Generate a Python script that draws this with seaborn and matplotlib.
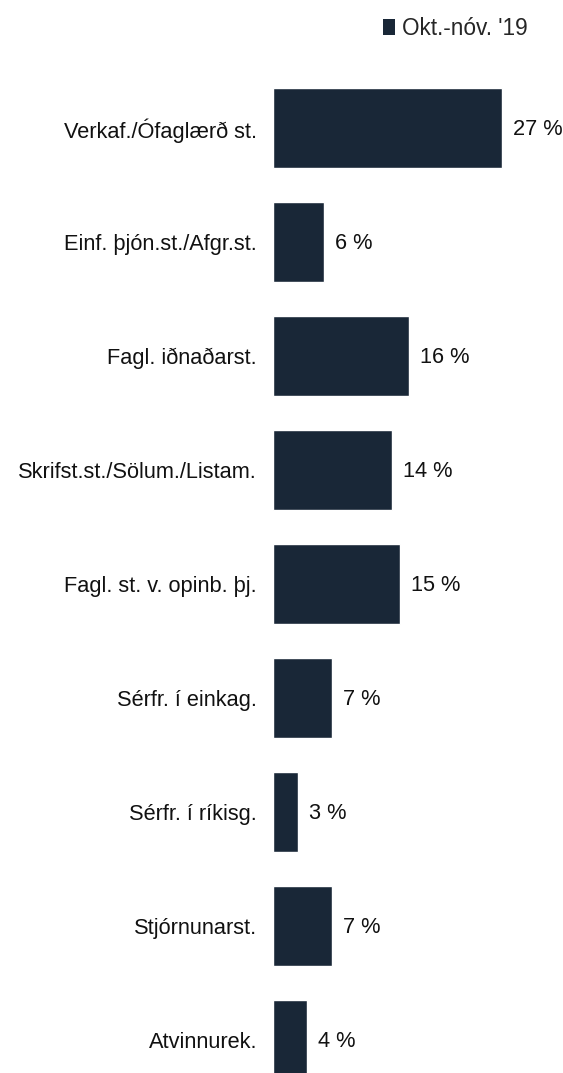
import numpy as np
import pandas as pd
import matplotlib
matplotlib.use("Agg")
import matplotlib.pyplot as plt
import seaborn as sns
from matplotlib.patches import Patch

categories = ["Verkaf./Ófaglærð st.", "Einf. þjón.st./Afgr.st.", "Fagl. iðnaðarst.",
              "Skrifst.st./Sölum./Listam.", "Fagl. st. v. opinb. þj.", "Sérfr. í einkag.",
              "Sérfr. í ríkisg.", "Stjórnunarst.", "Atvinnurek."]
values = [27, 6, 16, 14, 15, 7, 3, 7, 4]
series_name = "Okt.-nóv. '19"
bar_color = "#192737"

df = pd.DataFrame({"cat": categories, "val": values})

sns.set_style("white")
plt.rcParams['font.family'] = ['Liberation Sans', 'DejaVu Sans']

fig = plt.figure(figsize=(5.63, 10.73), dpi=100)
ax = fig.add_axes([273 / 563, 0, 1 - 273 / 563, 1003 / 1073])

sns.barplot(data=df, y="cat", x="val", orient="h", color=bar_color,
            width=0.7, saturation=1, ax=ax)

ax.set_xlim(0, 34.2)
ax.set_ylim(8.29, -0.51)
ax.set_xlabel("")
ax.set_ylabel("")
ax.set_xticks([])
ax.tick_params(axis="y", length=0, pad=11.5, labelsize=15.7, labelcolor="#111111")
for s in ax.spines.values():
    s.set_visible(False)

for i, v in enumerate(values):
    ax.text(v + 1.3, i + 0.01, f"{v} %", va="center", ha="left", fontsize=15.7, color="#111111")

handle = Patch(facecolor=bar_color, edgecolor="none")
fig.legend([handle], [series_name], loc="center left", bbox_to_anchor=(383 / 563, 1 - 28.5 / 1073),
           frameon=False, fontsize=16.3, handlelength=0.55, handleheight=0.7, handletextpad=0.27,
           borderpad=0, borderaxespad=0)

fig.savefig("out.png", dpi=100)
